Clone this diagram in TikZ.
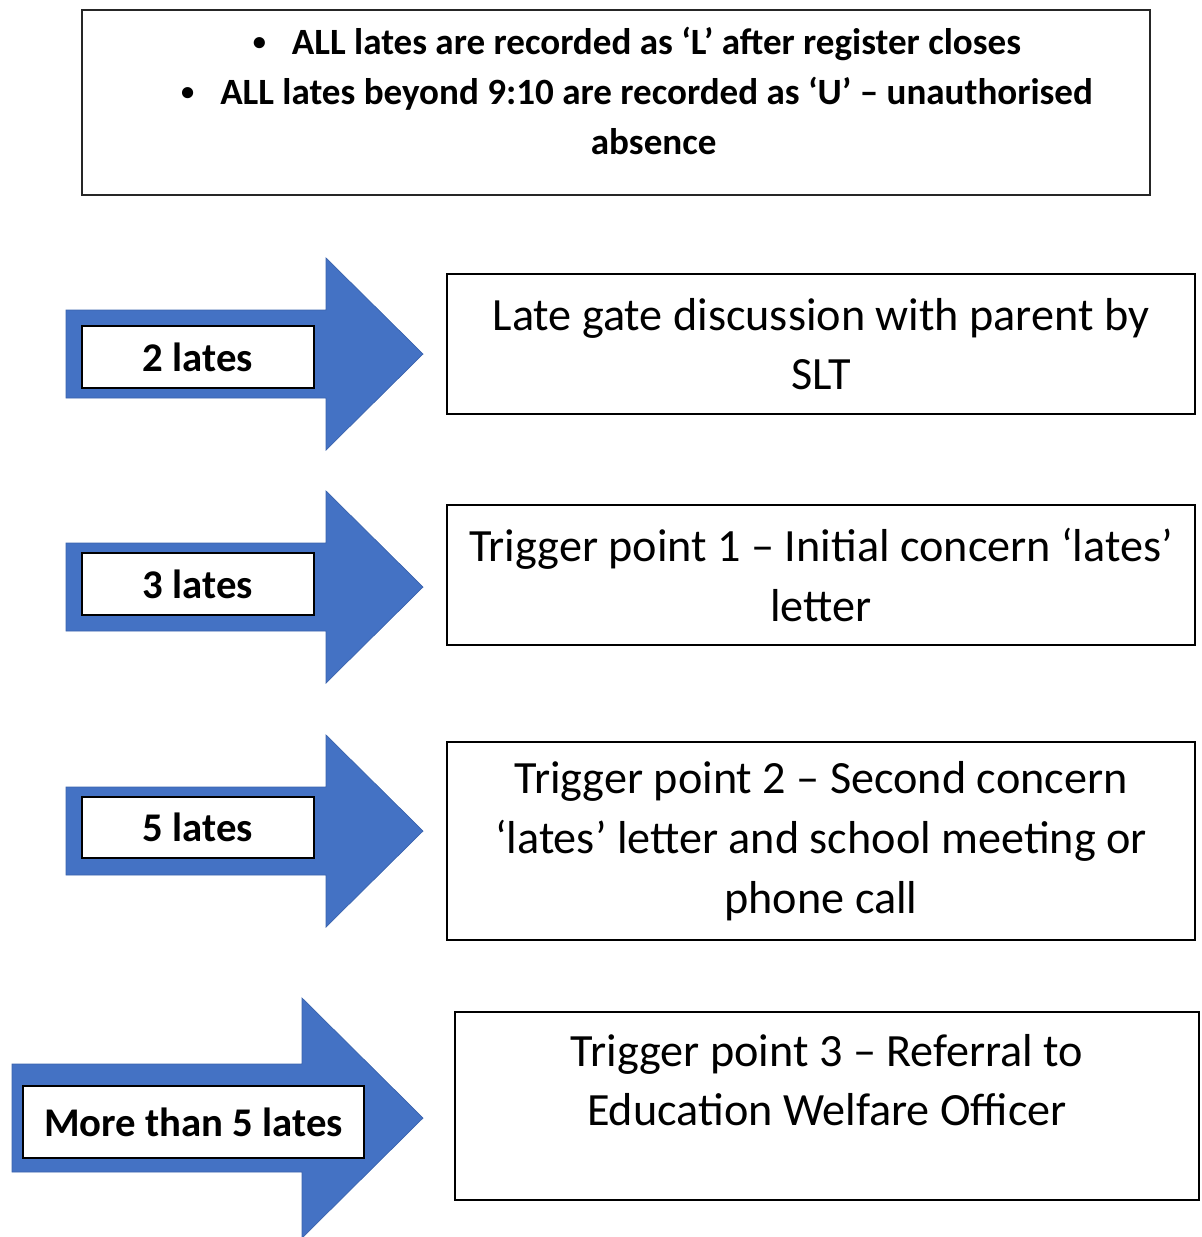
\documentclass[tikz,border=0pt]{standalone}
\usepackage{fontspec}
\setmainfont{Carlito}
\usetikzlibrary{positioning}
\definecolor{arrowblue}{HTML}{4472C4}
\definecolor{arrowedge}{HTML}{3A63AD}
\newcommand{\rulebullet}{\raisebox{0.12em}{\fontsize{15}{15}\selectfont •}\hspace{0.7em}}

\begin{document}
\begin{tikzpicture}[
    x=0.02cm, y=-0.02cm,
    steptext/.style=
        {align=center,inner sep=0pt,font=\fontsize{26.3}{34}\selectfont},
    stepbox/.style=
        {steptext,draw=black,line width=1.1pt,fill=white,minimum width=14.96cm},
    countbox/.style=
        {draw=black,line width=1.1pt,fill=white,inner sep=0pt,
         font=\bfseries\fontsize{23.2}{28}\selectfont},
    bigarrow/.style=
        {fill=arrowblue,draw=arrowedge,line width=0.4pt}]
    \useasboundingbox (0,0) rectangle (1201,1237);
    % rules box
    \node [draw=black!85, line width=1.1pt, minimum width=21.36cm,
        minimum height=3.7cm] (rules) at (616,102.5) {};
    \node [align=center, inner sep=0pt,
        font=\bfseries\fontsize{21.1}{28.3}\selectfont] (rulestxt) at (637,91)
        {\rulebullet ALL lates are recorded as ‘L’ after register closes\\
         \rulebullet ALL lates beyond 9:10 are recorded as ‘U’ – unauthorised\\
         \hspace*{0.9em}absence};
    % block arrows
    \foreach \c/\sl/\hb/\sh/\hh in
        {354/66/326/44/96, 587/66/326/44/96, 831/66/326/44/96, 1118/12/302/54/120}
        \draw [bigarrow] (\sl,{\c-\sh}) -- (\hb,{\c-\sh}) -- (\hb,{\c-\hh})
            -- (423,\c) -- (\hb,{\c+\hh}) -- (\hb,{\c+\sh}) -- (\sl,{\c+\sh}) -- cycle;
    % counts
    \node [countbox, minimum width=4.64cm, minimum height=1.24cm] (two) at (198,357) {2 lates};
    \node [countbox, minimum width=4.64cm, minimum height=1.24cm] (three) at (198,584) {3 lates};
    \node [countbox, minimum width=4.64cm, minimum height=1.22cm] (five) at (198,827.5) {5 lates};
    \node [countbox, minimum width=6.82cm, minimum height=1.44cm] (more) at (193.5,1122) {More than 5 lates};
    % steps
    \node [stepbox, minimum height=2.8cm] (gate) at (821,344)
        {Late gate discussion with parent by\\SLT};
    \node [stepbox, minimum height=2.8cm] (tp1) at (821,575)
        {Trigger point 1 – Initial concern ‘lates’\\letter};
    \node [stepbox, minimum height=3.96cm] (tp2) at (821,841)
        {Trigger point 2 – Second concern\\‘lates’ letter and school meeting or\\phone call};
    \node [stepbox, minimum width=14.88cm, minimum height=3.76cm] (tp3) at (827,1106) {};
    \node [steptext] (tp3txt) at (827,1080)
        {Trigger point 3 – Referral to\\Education Welfare Officer};
\end{tikzpicture}
\end{document}
